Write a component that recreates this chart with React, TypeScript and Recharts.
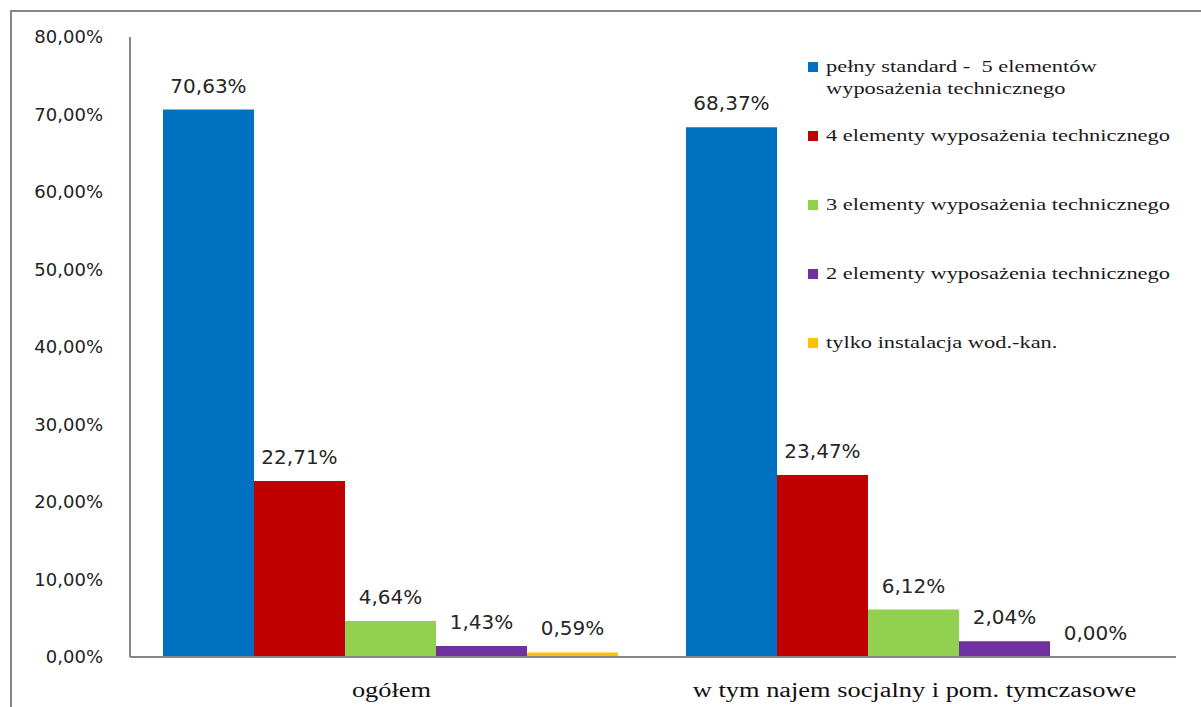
import { BarChart, Bar, XAxis, YAxis, LabelList, Legend } from "recharts";

const CATEGORIES = ["ogółem", "w tym najem socjalny i pom. tymczasowe"];
const SERIES_NAMES = [
  ["pełny standard -  5 elementów", "wyposażenia technicznego"],
  ["4 elementy wyposażenia technicznego"],
  ["3 elementy wyposażenia technicznego"],
  ["2 elementy wyposażenia technicznego"],
  ["tylko instalacja wod.-kan."],
];
const SERIES_COLORS = ["#0070C0", "#C00000", "#92D050", "#7030A0", "#FFC000"];
const FULL_STANDARD = [70.63, 68.37];
const FOUR_ELEMENTS = [22.71, 23.47];
const THREE_ELEMENTS = [4.64, 6.12];
const TWO_ELEMENTS = [1.43, 2.04];
const WATER_ONLY = [0.59, 0.0];
const Y_TICKS = [0, 10, 20, 30, 40, 50, 60, 70, 80];

const SERIES = [FULL_STANDARD, FOUR_ELEMENTS, THREE_ELEMENTS, TWO_ELEMENTS, WATER_ONLY];

const data = CATEGORIES.map((name, i) => {
  const row: any = { name };
  SERIES.forEach((values, s) => {
    row[`s${s}`] = values[i];
  });
  return row;
});

const pct = (v: number) => v.toFixed(2).replace(".", ",") + "%";

const AXIS_COLOR = "#868686";

// value labels above bars (also drawn for the 0% bar)
const renderValueLabel = (props: any) => {
  const { x, y, width, value } = props;
  return (
    <text
      x={x + width / 2}
      y={y - 17}
      textAnchor="middle"
      fontFamily="DejaVu Sans"
      fontSize={20}
      fill="#262626"
    >
      {pct(value)}
    </text>
  );
};

const CategoryTick = (props: any) => {
  const { x, y, payload } = props;
  return (
    <text
      x={0}
      y={0}
      transform={`translate(${x},${y + 40}) scale(1.32,1)`}
      textAnchor="middle"
      fontFamily="Liberation Serif"
      fontSize={20}
      fill="#111"
    >
      {payload.value}
    </text>
  );
};

const renderLegend = () => (
  <div style={{ fontFamily: "Liberation Serif", fontSize: 16, color: "#1a1a1a" }}>
    {SERIES_NAMES.map((lines, i) => (
      <div key={i} style={{ position: "relative", height: 69, lineHeight: "22px" }}>
        <div
          style={{
            position: "absolute",
            left: 0,
            top: 6,
            width: 10,
            height: 10,
            background: SERIES_COLORS[i],
          }}
        />
        {lines.map((line, j) => (
          <div
            key={j}
            style={{
              marginLeft: 18,
              whiteSpace: "pre",
              transform: "scaleX(1.4)",
              transformOrigin: "left",
            }}
          >
            {line}
          </div>
        ))}
      </div>
    ))}
  </div>
);

export default function App() {
  return (
    <div style={{ position: "absolute", left: 0, top: 0, width: 1201, height: 707, background: "#fff" }}>
      <div
        style={{
          position: "absolute",
          left: 10,
          top: 10,
          right: 0,
          bottom: 0,
          borderLeft: `2px solid ${AXIS_COLOR}`,
          borderTop: `2px solid ${AXIS_COLOR}`,
        }}
      />
      <BarChart
        width={1201}
        height={707}
        data={data}
        margin={{ top: 37, right: 25, left: 0, bottom: 0 }}
        barCategoryGap={33}
        barGap={0}
      >
        <XAxis
          dataKey="name"
          height={50}
          axisLine={{ stroke: AXIS_COLOR, strokeWidth: 2 }}
          tickLine={false}
          tickSize={0}
          tickMargin={0}
          tick={<CategoryTick />}
          interval={0}
        />
        <YAxis
          width={130}
          domain={[0, 80]}
          ticks={Y_TICKS}
          tickFormatter={pct}
          axisLine={{ stroke: AXIS_COLOR, strokeWidth: 2 }}
          tickLine={false}
          tickSize={0}
          tickMargin={27}
          tick={{ fontFamily: "DejaVu Sans", fontSize: 18, fill: "#222" }}
        />
        <Legend
          layout="horizontal"
          verticalAlign="middle"
          content={renderLegend}
          wrapperStyle={{ left: 808, top: 56, width: 390 }}
        />
        {SERIES.map((_, s) => (
          <Bar
            key={s}
            dataKey={`s${s}`}
            name={SERIES_NAMES[s].join(" ")}
            fill={SERIES_COLORS[s]}
            minPointSize={0.01}
            isAnimationActive={false}
          >
            <LabelList dataKey={`s${s}`} content={renderValueLabel} />
          </Bar>
        ))}
      </BarChart>
    </div>
  );
}
